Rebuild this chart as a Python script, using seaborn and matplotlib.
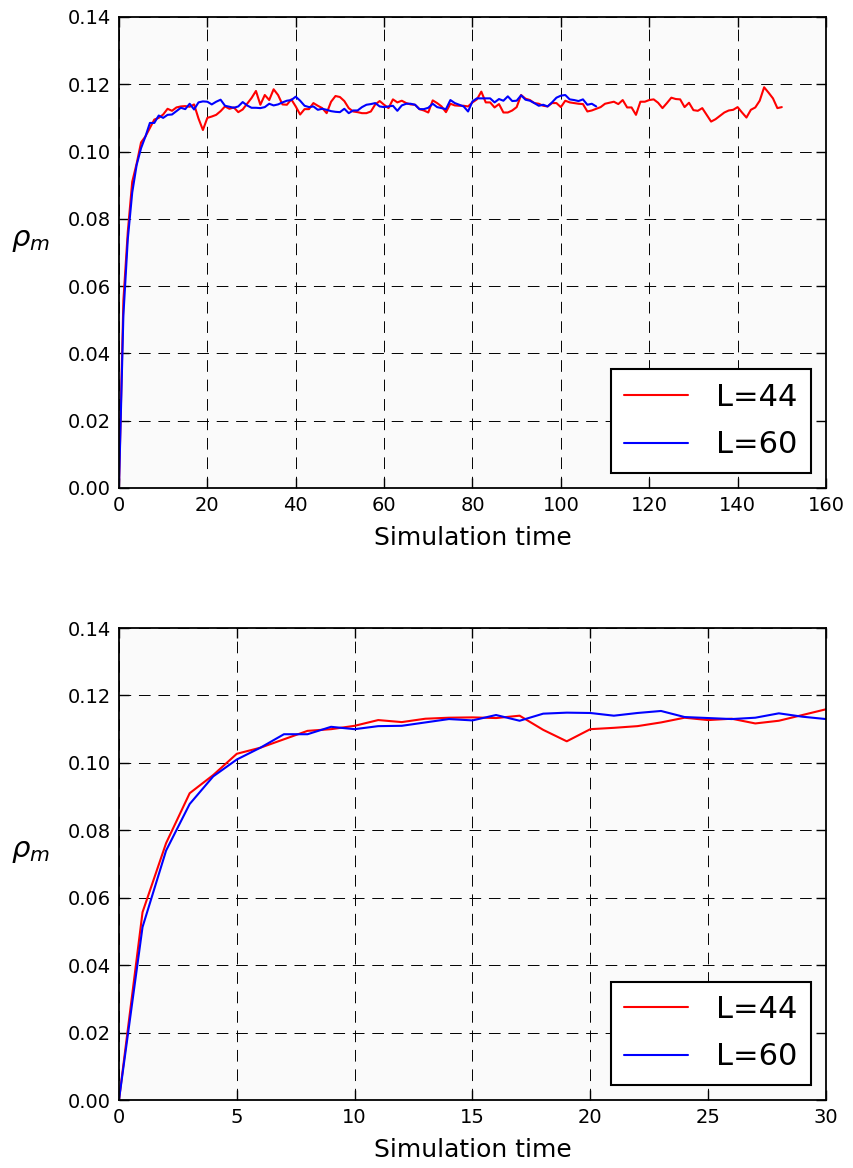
import numpy as np
import pandas as pd
import matplotlib
matplotlib.use("Agg")
import matplotlib.pyplot as plt
import seaborn as sns

# ---- data ----
rho_L44 = [0.0, 0.0557, 0.0762, 0.091, 0.0964, 0.1027, 0.1045, 0.107, 0.1095, 0.110,
           0.111, 0.1127, 0.1121, 0.1131, 0.1134, 0.1135, 0.1133, 0.114, 0.1098, 0.1064,
           0.110, 0.1104, 0.1109, 0.112, 0.1134, 0.1127, 0.1131, 0.1117, 0.1125, 0.1142,
           0.1159, 0.118, 0.1139, 0.1168, 0.1153, 0.1185, 0.1168, 0.114, 0.1139, 0.1155,
           0.1134, 0.111, 0.1126, 0.1126, 0.1144, 0.1136, 0.1129, 0.1114, 0.1148, 0.1165,
           0.1162, 0.115, 0.1129, 0.1119, 0.1117, 0.1114, 0.1114, 0.1119, 0.114, 0.115,
           0.1139, 0.1129, 0.1155, 0.1146, 0.1151, 0.1144, 0.114, 0.1139, 0.1126, 0.1122,
           0.1116, 0.1152, 0.1144, 0.1134, 0.1117, 0.1142, 0.1137, 0.1136, 0.1136, 0.1134,
           0.1146, 0.1155, 0.1178, 0.1146, 0.1146, 0.1131, 0.1141, 0.1116, 0.1116, 0.1122,
           0.1132, 0.1168, 0.1157, 0.1153, 0.1144, 0.1142, 0.1136, 0.1134, 0.1144, 0.1144,
           0.1132, 0.1151, 0.1146, 0.1144, 0.1142, 0.1141, 0.1119, 0.1122, 0.1127, 0.1132,
           0.1142, 0.1145, 0.1148, 0.1141, 0.1153, 0.1131, 0.1131, 0.1109, 0.1148, 0.1148,
           0.1153, 0.1155, 0.1145, 0.1129, 0.1144, 0.116, 0.1156, 0.1155, 0.1132, 0.1145,
           0.1123, 0.1121, 0.1129, 0.1109, 0.1089, 0.1096, 0.1106, 0.1116, 0.1122, 0.1124,
           0.1132, 0.1116, 0.1101, 0.1124, 0.1131, 0.1151, 0.1191, 0.1175, 0.1158, 0.1129,
           0.1132]
rho_L60 = [0.0, 0.0513, 0.074, 0.0878, 0.096, 0.101, 0.1045, 0.1085, 0.1085, 0.1107,
           0.110, 0.1109, 0.111, 0.112, 0.113, 0.1126, 0.1142, 0.1125, 0.1146, 0.1149,
           0.1148, 0.114, 0.1148, 0.1154, 0.1136, 0.1133, 0.113, 0.1134, 0.1147, 0.1137,
           0.113, 0.113, 0.1129, 0.1132, 0.1142, 0.1137, 0.114, 0.1146, 0.1151, 0.1153,
           0.1163, 0.1151, 0.1136, 0.1132, 0.1134, 0.1124, 0.1127, 0.1124, 0.112, 0.1118,
           0.1117, 0.1127, 0.1114, 0.1122, 0.1122, 0.1132, 0.1139, 0.1141, 0.1144, 0.1134,
           0.1132, 0.1134, 0.1136, 0.1121, 0.1137, 0.1142, 0.1142, 0.1139, 0.1126, 0.1126,
           0.113, 0.1142, 0.1132, 0.1129, 0.1126, 0.1153, 0.1144, 0.1139, 0.1134, 0.1119,
           0.1149, 0.1158, 0.1158, 0.1158, 0.1158, 0.1146, 0.1156, 0.1151, 0.1164, 0.115,
           0.1151, 0.1167, 0.1154, 0.1151, 0.1144, 0.1136, 0.1139, 0.1134, 0.1146, 0.116,
           0.1166, 0.1168, 0.1155, 0.1153, 0.115, 0.1155, 0.1139, 0.1142, 0.1134]
time_L44 = list(range(len(rho_L44)))
time_L60 = list(range(len(rho_L60)))
series_names = ["L=44", "L=60"]
series_colors = ["#ff0000", "#0000ff"]
x_limits = [(0, 160), (0, 30)]
y_ticks = [0.00, 0.02, 0.04, 0.06, 0.08, 0.10, 0.12, 0.14]

df = pd.concat([
    pd.DataFrame({"t": time_L44, "rho": rho_L44, "L": series_names[0]}),
    pd.DataFrame({"t": time_L60, "rho": rho_L60, "L": series_names[1]}),
], ignore_index=True)

sns.set_style("ticks", rc={"text.color": "black", "axes.labelcolor": "black",
                           "xtick.color": "black", "ytick.color": "black",
                           "axes.edgecolor": "black"})
plt.rcParams["font.family"] = ["DejaVu Sans"]
plt.rcParams["mathtext.fontset"] = "dejavusans"

fig = plt.figure(figsize=(8.54, 11.68), dpi=100)
ax_top = fig.add_axes([0.1393, 0.5822, 0.8279, 0.4033])
ax_bot = fig.add_axes([0.1393, 0.0582, 0.8279, 0.4041])

for ax, xl in zip([ax_top, ax_bot], x_limits):
    ax.set_facecolor("#fafafa")
    sns.lineplot(data=df[df["t"] <= xl[1]], x="t", y="rho", hue="L",
                 palette=dict(zip(series_names, series_colors)),
                 linewidth=1.5, ax=ax, legend=True, errorbar=None)
    ax.set_xlim(*xl)
    ax.set_ylim(0, 0.14)
    ax.set_yticks(y_ticks)
    ax.set_yticklabels([f"{v:.2f}" for v in y_ticks])
    ax.grid(True, color="black", linestyle=(0, (12, 8)), linewidth=0.7)
    ax.tick_params(direction="in", top=True, right=True, length=7, width=1,
                   labelsize=14, pad=6, colors="black")
    for s in ax.spines.values():
        s.set_linewidth(1.3)
        s.set_color("black")
    ax.set_xlabel("Simulation time", fontsize=18, labelpad=8)
    ax.set_ylabel(r"$\rho_m$", fontsize=21, rotation=0, va="center", ha="center")
    ax.yaxis.set_label_coords(-0.1245, 0.527)
    leg = ax.legend(loc="lower right", fontsize=22, frameon=True, fancybox=False,
                    borderaxespad=0.5, handlelength=2.1, handletextpad=0.9,
                    borderpad=0.44, labelspacing=0.6)
    leg.get_frame().set_edgecolor("black")
    leg.get_frame().set_linewidth(1.5)
    leg.get_frame().set_facecolor("white")
    leg.get_frame().set_alpha(1)

ax_top.set_xticks(range(0, 161, 20))
ax_bot.set_xticks(range(0, 31, 5))

fig.savefig("out.png", dpi=100, facecolor="white")
